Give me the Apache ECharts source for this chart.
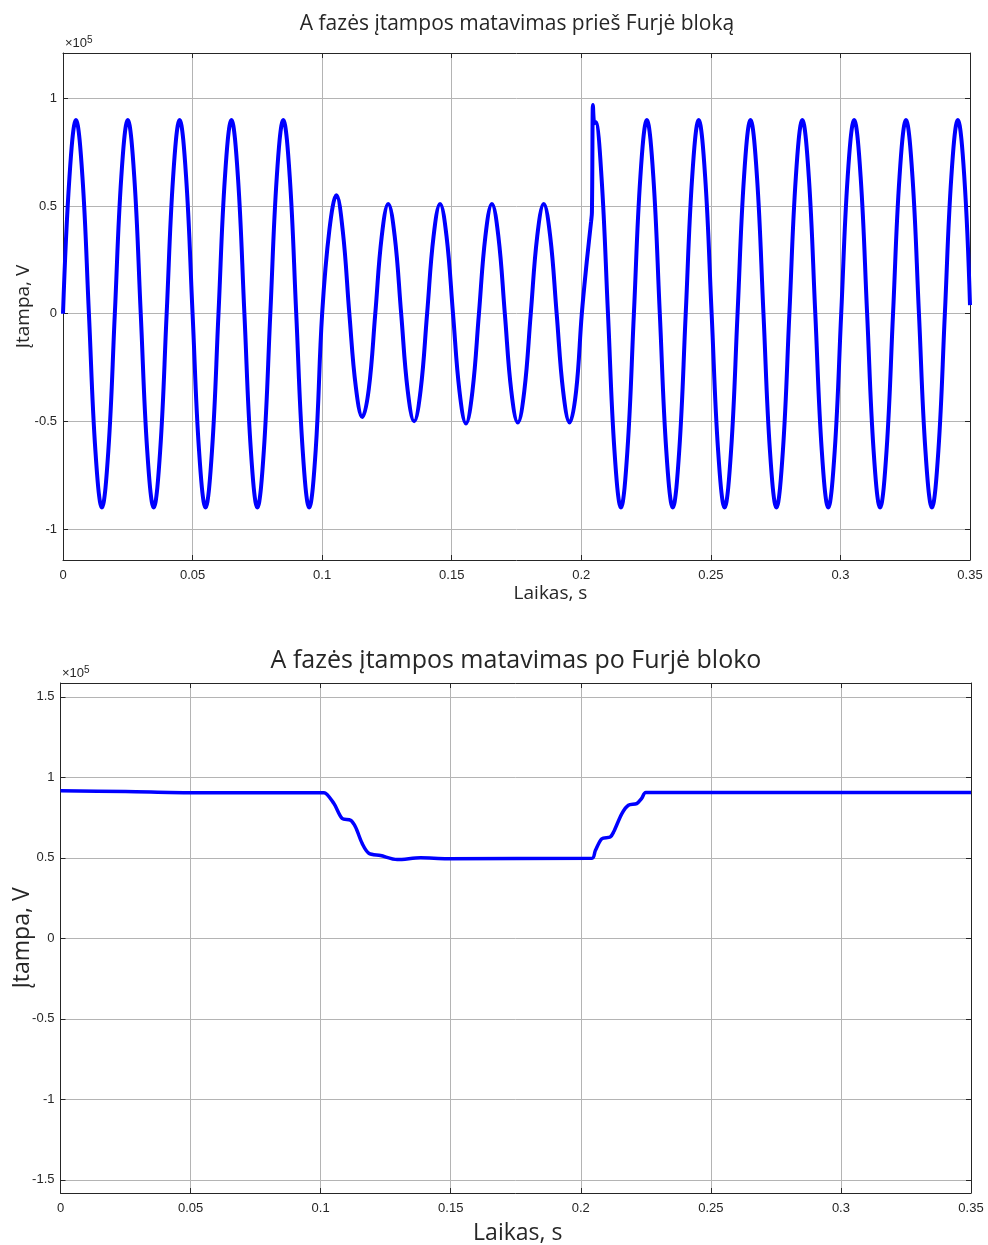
<!DOCTYPE html>
<html>
<head>
<meta charset="utf-8">
<script src="https://cdn.jsdelivr.net/npm/echarts@6/dist/echarts.min.js"></script>
<style>
  html, body { margin: 0; padding: 0; background: #ffffff; }
  #chart { width: 988px; height: 1245px; }
</style>
</head>
<body>
<div id="chart"></div>
<script>
// ---- Data ----
// Top plot: phase A voltage before the Fourier block (time in s, voltage in V)
var tBefore = [
  0, 0.0025, 0.005, 0.0075, 0.01, 0.0125, 0.015, 0.0175,
  0.02, 0.0225, 0.025, 0.0275, 0.03, 0.0325, 0.035, 0.0375,
  0.04, 0.0425, 0.045, 0.0475, 0.05, 0.0525, 0.055, 0.0575,
  0.06, 0.0625, 0.065, 0.0675, 0.07, 0.0725, 0.075, 0.0775,
  0.08, 0.0825, 0.085, 0.0875, 0.09, 0.0925, 0.095, 0.0975,
  0.1,
  0.1028, 0.1055, 0.108, 0.1105, 0.113, 0.1155, 0.118,
  0.1205, 0.123, 0.1255, 0.128, 0.1305, 0.133, 0.1355, 0.138,
  0.1405, 0.143, 0.1455, 0.148, 0.1505, 0.153, 0.1555, 0.158,
  0.1605, 0.163, 0.1655, 0.168, 0.1705, 0.173, 0.1755, 0.178,
  0.1805, 0.183, 0.1855, 0.188, 0.1905, 0.193, 0.1955, 0.198,
  0.2002, 0.2021, 0.2038, 0.2041, 0.2045, 0.2048, 0.2051, 0.2055,
  0.2078, 0.2103, 0.2128, 0.2153, 0.2178,
  0.2203, 0.2228, 0.2253, 0.2278, 0.2303, 0.2328, 0.2353, 0.2378,
  0.2403, 0.2428, 0.2453, 0.2478, 0.2503, 0.2528, 0.2553, 0.2578,
  0.2603, 0.2628, 0.2653, 0.2678, 0.2703, 0.2728, 0.2753, 0.2778,
  0.2803, 0.2828, 0.2853, 0.2878, 0.2903, 0.2928, 0.2953, 0.2978,
  0.3003, 0.3028, 0.3053, 0.3078, 0.3103, 0.3128, 0.3153, 0.3178,
  0.3203, 0.3228, 0.3253, 0.3278, 0.3303, 0.3328, 0.3353, 0.3378,
  0.3403, 0.3428, 0.3453, 0.3478, 0.35
];
var vBefore = [
  0, 63600, 90000, 63600, 0, -63600, -90000, -63600,
  0, 63600, 90000, 63600, 0, -63600, -90000, -63600,
  0, 63600, 90000, 63600, 0, -63600, -90000, -63600,
  0, 63600, 90000, 63600, 0, -63600, -90000, -63600,
  0, 63600, 90000, 63600, 0, -63600, -90000, -63600,
  0,
  39000, 55000, 38000, 0, -34000, -48000, -35000,
  0, 36000, 51000, 36000, 0, -35500, -50000, -35500,
  0, 36000, 51000, 36000, 0, -36000, -51000, -36000,
  0, 36000, 51000, 36000, 0, -36000, -50500, -36000,
  0, 36000, 51000, 36000, 0, -36000, -50500, -36000,
  0, 24000, 43000, 47000, 97000, 90000, 88500, 89000,
  63600, 0, -63600, -90000, -63600,
  0, 63600, 90000, 63600, 0, -63600, -90000, -63600,
  0, 63600, 90000, 63600, 0, -63600, -90000, -63600,
  0, 63600, 90000, 63600, 0, -63600, -90000, -63600,
  0, 63600, 90000, 63600, 0, -63600, -90000, -63600,
  0, 63600, 90000, 63600, 0, -63600, -90000, -63600,
  0, 63600, 90000, 63600, 0, -63600, -90000, -63600,
  0, 63600, 90000, 63600, 4000
];

// Bottom plot: magnitude after the Fourier block
var tAfter = [
  0, 0.025, 0.05, 0.1, 0.1013, 0.1051, 0.1083, 0.1115, 0.1134, 0.116,
  0.1185, 0.123, 0.1294, 0.1384, 0.1486, 0.2043, 0.2056, 0.2081, 0.2113,
  0.2126, 0.2158, 0.2183, 0.2215, 0.2234, 0.225, 0.35
];
var vAfter = [
  91600, 91200, 90400, 90500, 90500, 83700, 74400, 73300, 69100, 58800,
  52900, 51400, 48900, 50000, 49500, 49700, 54500, 61900, 62900,
  66000, 77500, 82700, 83700, 86900, 90600, 90600
];

// Tick labels
var xTicks = [0, 0.05, 0.1, 0.15, 0.2, 0.25, 0.3, 0.35];
var yTicksTop = [-100000, -50000, 0, 50000, 100000];
var yTicksBottom = [-150000, -100000, -50000, 0, 50000, 100000, 150000];

// Texts
var titleTop = 'A fazės įtampos matavimas prieš Furjė bloką';
var titleBottom = 'A fazės įtampos matavimas po Furjė bloko';
var xName = 'Laikas, s';
var yName = 'Įtampa, V';

// ---- Build chart ----
function pairs(t, v) { return t.map(function (x, i) { return [x, v[i]]; }); }

var axisColor = '#262626';
var gridColor = '#b4b4b4';
var tickFont = 'Liberation Sans, Arial, sans-serif';
var titleFont = 'Open Sans, Noto Sans, sans-serif';

function fmtX(v) { return String(+v.toFixed(2)); }
function fmtY(v) { return String(+(v / 1e5).toFixed(2)); }

function mainX(gi, labelSize, nameSize, nameGap, namePad) {
  return {
    type: 'value', gridIndex: gi, min: 0, max: 0.35, interval: 0.05,
    position: 'bottom',
    axisLine: { show: true, onZero: false, lineStyle: { color: axisColor, width: 1 } },
    axisTick: { show: true, inside: true, length: 5, lineStyle: { color: axisColor } },
    axisLabel: { color: axisColor, fontSize: labelSize, fontFamily: tickFont, margin: 9, formatter: fmtX },
    splitLine: { show: true, lineStyle: { color: gridColor, width: 1 } },
    name: xName, nameLocation: 'middle', nameGap: nameGap,
    nameTextStyle: { color: axisColor, fontSize: nameSize, fontFamily: titleFont, padding: namePad }
  };
}
function topX(gi) {
  return {
    type: 'value', gridIndex: gi, min: 0, max: 0.35, interval: 0.05,
    position: 'top',
    axisLine: { show: true, onZero: false, lineStyle: { color: axisColor, width: 1 } },
    axisTick: { show: true, inside: true, length: 5, lineStyle: { color: axisColor } },
    axisLabel: { show: false }, splitLine: { show: false }
  };
}
function mainY(gi, min, max, ticks, nameSize, nameGap) {
  return {
    type: 'value', gridIndex: gi, min: min, max: max, position: 'left',
    axisLine: { show: true, onZero: false, lineStyle: { color: axisColor, width: 1 } },
    axisTick: { show: true, inside: true, length: 5, lineStyle: { color: axisColor }, customValues: ticks },
    axisLabel: { color: axisColor, fontSize: 13, fontFamily: tickFont, margin: 6, formatter: fmtY, customValues: ticks, showMinLabel: true, showMaxLabel: true },
    splitLine: { show: true, lineStyle: { color: gridColor, width: 1 } },
    name: yName, nameLocation: 'middle', nameGap: nameGap, nameRotate: 90, nameMoveOverlap: false,
    nameTextStyle: { color: axisColor, fontSize: nameSize, fontFamily: titleFont }
  };
}
function rightY(gi, min, max, ticks) {
  return {
    type: 'value', gridIndex: gi, min: min, max: max, position: 'right',
    axisLine: { show: true, onZero: false, lineStyle: { color: axisColor, width: 1 } },
    axisTick: { show: true, inside: true, length: 5, lineStyle: { color: axisColor }, customValues: ticks },
    axisLabel: { show: false, customValues: ticks }, splitLine: { show: false }
  };
}

var chart = echarts.init(document.getElementById('chart'), null, { renderer: 'canvas' });
chart.setOption({
  backgroundColor: '#ffffff',
  animation: false,
  title: [
    { text: titleTop, left: 512, top: 9, textAlign: 'center',
      textStyle: { color: axisColor, fontSize: 21, fontWeight: 'normal', fontFamily: titleFont } },
    { text: titleBottom, left: 511, top: 643, textAlign: 'center',
      textStyle: { color: axisColor, fontSize: 25, fontWeight: 'normal', fontFamily: titleFont } }
  ],
  grid: [
    { left: 63, top: 53, width: 907, height: 507, containLabel: false, outerBoundsMode: 'none' },
    { left: 60.5, top: 683, width: 910.5, height: 510, containLabel: false, outerBoundsMode: 'none' }
  ],
  xAxis: [
    mainX(0, 13, 19, 24, [0, 0, 0, 68]),
    topX(0),
    mainX(1, 13, 23, 29, [0, 0, 0, 4]),
    topX(1)
  ],
  yAxis: [
    mainY(0, -114400, 121100, yTicksTop, 19, 30),
    rightY(0, -114400, 121100, yTicksTop),
    mainY(1, -158200, 158600, yTicksBottom, 23, 27),
    rightY(1, -158200, 158600, yTicksBottom)
  ],
  graphic: [
    { type: 'text', left: 65, top: 35, style: { rich: { a: { fontSize: 13, fontFamily: tickFont, fill: axisColor }, s: { fontSize: 10, fontFamily: tickFont, fill: axisColor, verticalAlign: 'top', padding: [0, 0, 6, 0] } }, text: '{a|×10}{s|5}' } },
    { type: 'text', left: 62, top: 665, style: { rich: { a: { fontSize: 13, fontFamily: tickFont, fill: axisColor }, s: { fontSize: 10, fontFamily: tickFont, fill: axisColor, verticalAlign: 'top', padding: [0, 0, 6, 0] } }, text: '{a|×10}{s|5}' } }
  ],
  series: [
    { type: 'line', xAxisIndex: 0, yAxisIndex: 0, data: pairs(tBefore, vBefore),
      showSymbol: false, smooth: 0.4,
      lineStyle: { color: '#0000ff', width: 4 }, clip: true },
    { type: 'line', xAxisIndex: 2, yAxisIndex: 2, data: pairs(tAfter, vAfter),
      showSymbol: false, smooth: 0.3,
      lineStyle: { color: '#0000ff', width: 3.5 }, clip: true }
  ]
});
</script>
</body>
</html>
